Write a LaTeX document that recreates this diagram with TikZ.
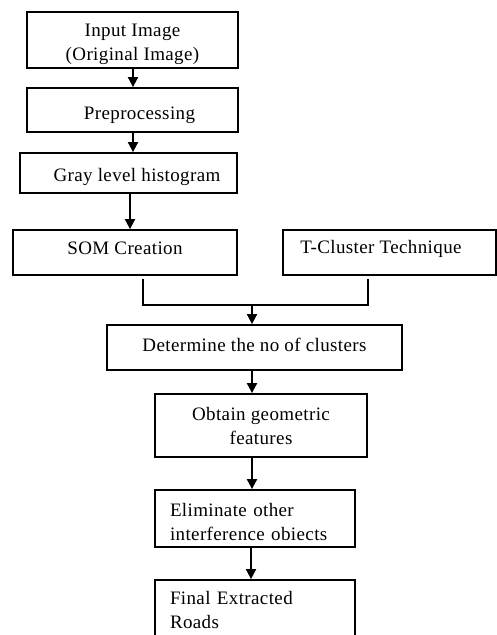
\documentclass[tikz,border=0pt]{standalone}
\usepackage{fontspec}
\setmainfont{Liberation Serif}[LetterSpace=2]
\usetikzlibrary{arrows.meta}
\begin{document}
\begin{tikzpicture}[x=1pt,y=-1pt,
  box/.style={draw, line width=1.8pt, inner sep=0pt},
  txt/.style={font=\fontsize{19}{24}\selectfont, align=center, inner sep=0pt},
  ltxt/.style={txt, align=left, text width=170pt},
  arr/.style={line width=1.8pt, -{Triangle[width=10pt,length=10pt]}},
  ln/.style={line width=1.5pt}]
\useasboundingbox (0,0) rectangle (497,635);
\clip (0,0) rectangle (497,635);
\node[box, minimum width=211pt, minimum height=56pt,
  label={[txt, yshift=-4pt]center:{Input Image\\(Original Image)}}] (b1) at (132.5,40) {};
\node[box, minimum width=211pt, minimum height=44pt,
  label={[txt, yshift=-5pt, xshift=7pt]center:{Preprocessing}}] (b2) at (132.5,110) {};
\node[box, minimum width=217pt, minimum height=40pt,
  label={[txt, yshift=-4pt, xshift=8.5pt]center:{Gray level histogram}}] (b3) at (128.5,173) {};
\node[box, minimum width=224pt, minimum height=45pt,
  label={[txt, yshift=4pt]center:{SOM Creation}}] (b4) at (125,252.5) {};
\node[box, minimum width=213pt, minimum height=45pt,
  label={[txt, yshift=4pt, xshift=-8.5pt]center:{T-Cluster Technique}}] (b5) at (389.5,252.5) {};
\node[box, minimum width=295pt, minimum height=45pt,
  label={[txt, yshift=3pt]center:{Determine the no of clusters}}] (b6) at (254.5,347.5) {};
\node[box, minimum width=212pt, minimum height=63pt,
  label={[txt]center:{Obtain geometric\\features}}] (b7) at (261,425.5) {};
\node[box, minimum width=200pt, minimum height=57pt,
  label={[ltxt, yshift=-3pt]center:{Eliminate other\\interference obiects}}] (b8) at (255,518.5) {};
\node[box, minimum width=200pt, minimum height=65pt,
  label={[ltxt, yshift=3pt]center:{Final Extracted\\Roads}}] (b9) at (255,612.5) {};
\coordinate (c1) at (133,0);
\coordinate (c3) at (130,0);
\coordinate (j) at (252,305);
\draw[arr] (b1.south -| c1) -- (b2.north -| c1);
\draw[arr] (b2.south -| c1) -- (b3.north -| c1);
\draw[arr] (b3.south -| c3) -- (b4.north -| c3);
\draw[ln] ([xshift=18pt,yshift=-3pt]b4.south) |- (j) -| ([xshift=-21.5pt,yshift=-3pt]b5.south);
\draw[arr] (j) -- (b6.north -| j);
\draw[arr] (b6.south -| j) -- (b7.north -| j);
\draw[arr] (b7.south -| j) -- (b8.north -| j);
\draw[arr] ([xshift=-1pt]b8.south -| j) -- ([xshift=-1pt]b9.north -| j);
\end{tikzpicture}
\end{document}
